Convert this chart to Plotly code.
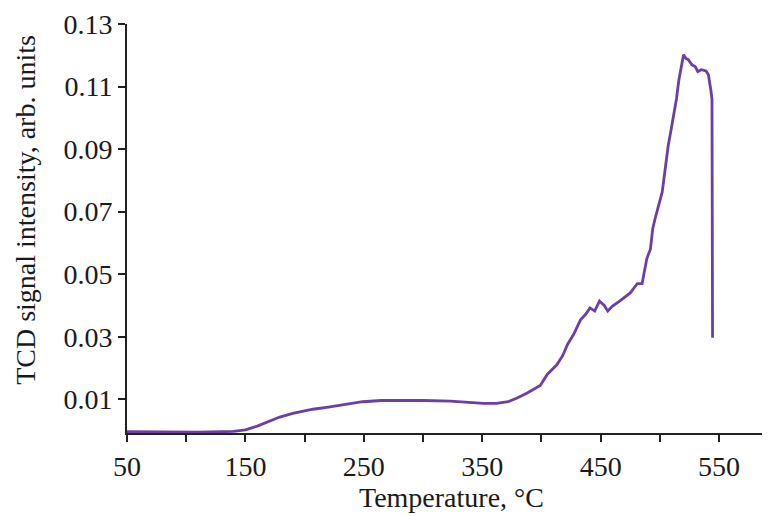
import plotly.graph_objects as go

# TPR curve
temperature = [50, 80, 110, 140, 150, 160, 170, 179, 190, 200, 207, 220, 235, 249, 265,
               286, 300, 323, 340, 351, 362, 372, 379, 388, 399, 405, 413, 418, 422, 427,
               433, 437, 441, 445, 449, 453, 456, 460, 466, 470, 475, 481, 485, 489, 492,
               494, 496, 502, 507, 510, 514, 516, 519, 520, 522, 524, 527, 530, 532, 535,
               539, 541, 543, 544, 544.5]
signal = [-0.0004, -0.0005, -0.0005, -0.0003, 0.0002, 0.0014, 0.0028, 0.0043, 0.0055, 0.0063,
          0.0068, 0.0075, 0.0085, 0.0092, 0.0096, 0.0097, 0.0096, 0.0094, 0.0090, 0.0087,
          0.0087, 0.0092, 0.0103, 0.0120, 0.0144, 0.0180, 0.0210, 0.0240, 0.0275, 0.0306,
          0.0354, 0.0370, 0.0392, 0.0382, 0.0414, 0.0400, 0.0382, 0.0398, 0.0414, 0.0425,
          0.0440, 0.0470, 0.0470, 0.0550, 0.0580, 0.0646, 0.0678, 0.0763, 0.0910, 0.0973,
          0.1060, 0.1120, 0.1176, 0.1202, 0.1190, 0.1186, 0.1170, 0.1163, 0.1148, 0.1154,
          0.1150, 0.1138, 0.1090, 0.1060, 0.0297]

x_ticks = [50, 150, 250, 350, 450, 550]
y_ticks = [0.01, 0.03, 0.05, 0.07, 0.09, 0.11, 0.13]
y_labels = ["0.01", "0.03", "0.05", "0.07", "0.09", "0.11", "0.13"]

font = "Liberation Serif, Times New Roman, serif"

fig = go.Figure()
fig.add_trace(go.Scatter(x=temperature, y=signal, mode="lines",
                         line=dict(color="#6a3fa6", width=2.8), showlegend=False))

# page body adds an 8px margin, so the figure is 8px smaller on each side
fig.update_layout(
    width=762, height=508,
    margin=dict(l=119, r=0, t=16, b=83),
    paper_bgcolor="white", plot_bgcolor="white",
    font=dict(family=font, size=28, color="#1a1a1a"),
    xaxis=dict(range=[50, 593], tickvals=x_ticks, ticks="outside", ticklen=7, tickwidth=2,
               tickcolor="#222", showline=True, linecolor="#222", linewidth=2,
               showgrid=False, zeroline=False,
               minor=dict(tick0=50, dtick=50, ticks="outside", ticklen=7, tickwidth=2,
                          tickcolor="#222", showgrid=False)),
    yaxis=dict(range=[-0.0008, 0.13], tickvals=y_ticks, ticktext=y_labels, ticks="outside",
               ticklen=7, tickwidth=2, tickcolor="#222", showline=True, linecolor="#222",
               linewidth=2, showgrid=False, zeroline=False),
    annotations=[
        dict(text="Temperature, °C", xref="paper", yref="paper", x=0.505, y=-0.158,
             xanchor="center", yanchor="middle", showarrow=False),
        dict(text="TCD signal intensity, arb. units", xref="paper", yref="paper",
             x=-0.159, y=0.545, xanchor="center", yanchor="middle", textangle=-90,
             showarrow=False),
    ],
)

fig.write_html("out.html")
